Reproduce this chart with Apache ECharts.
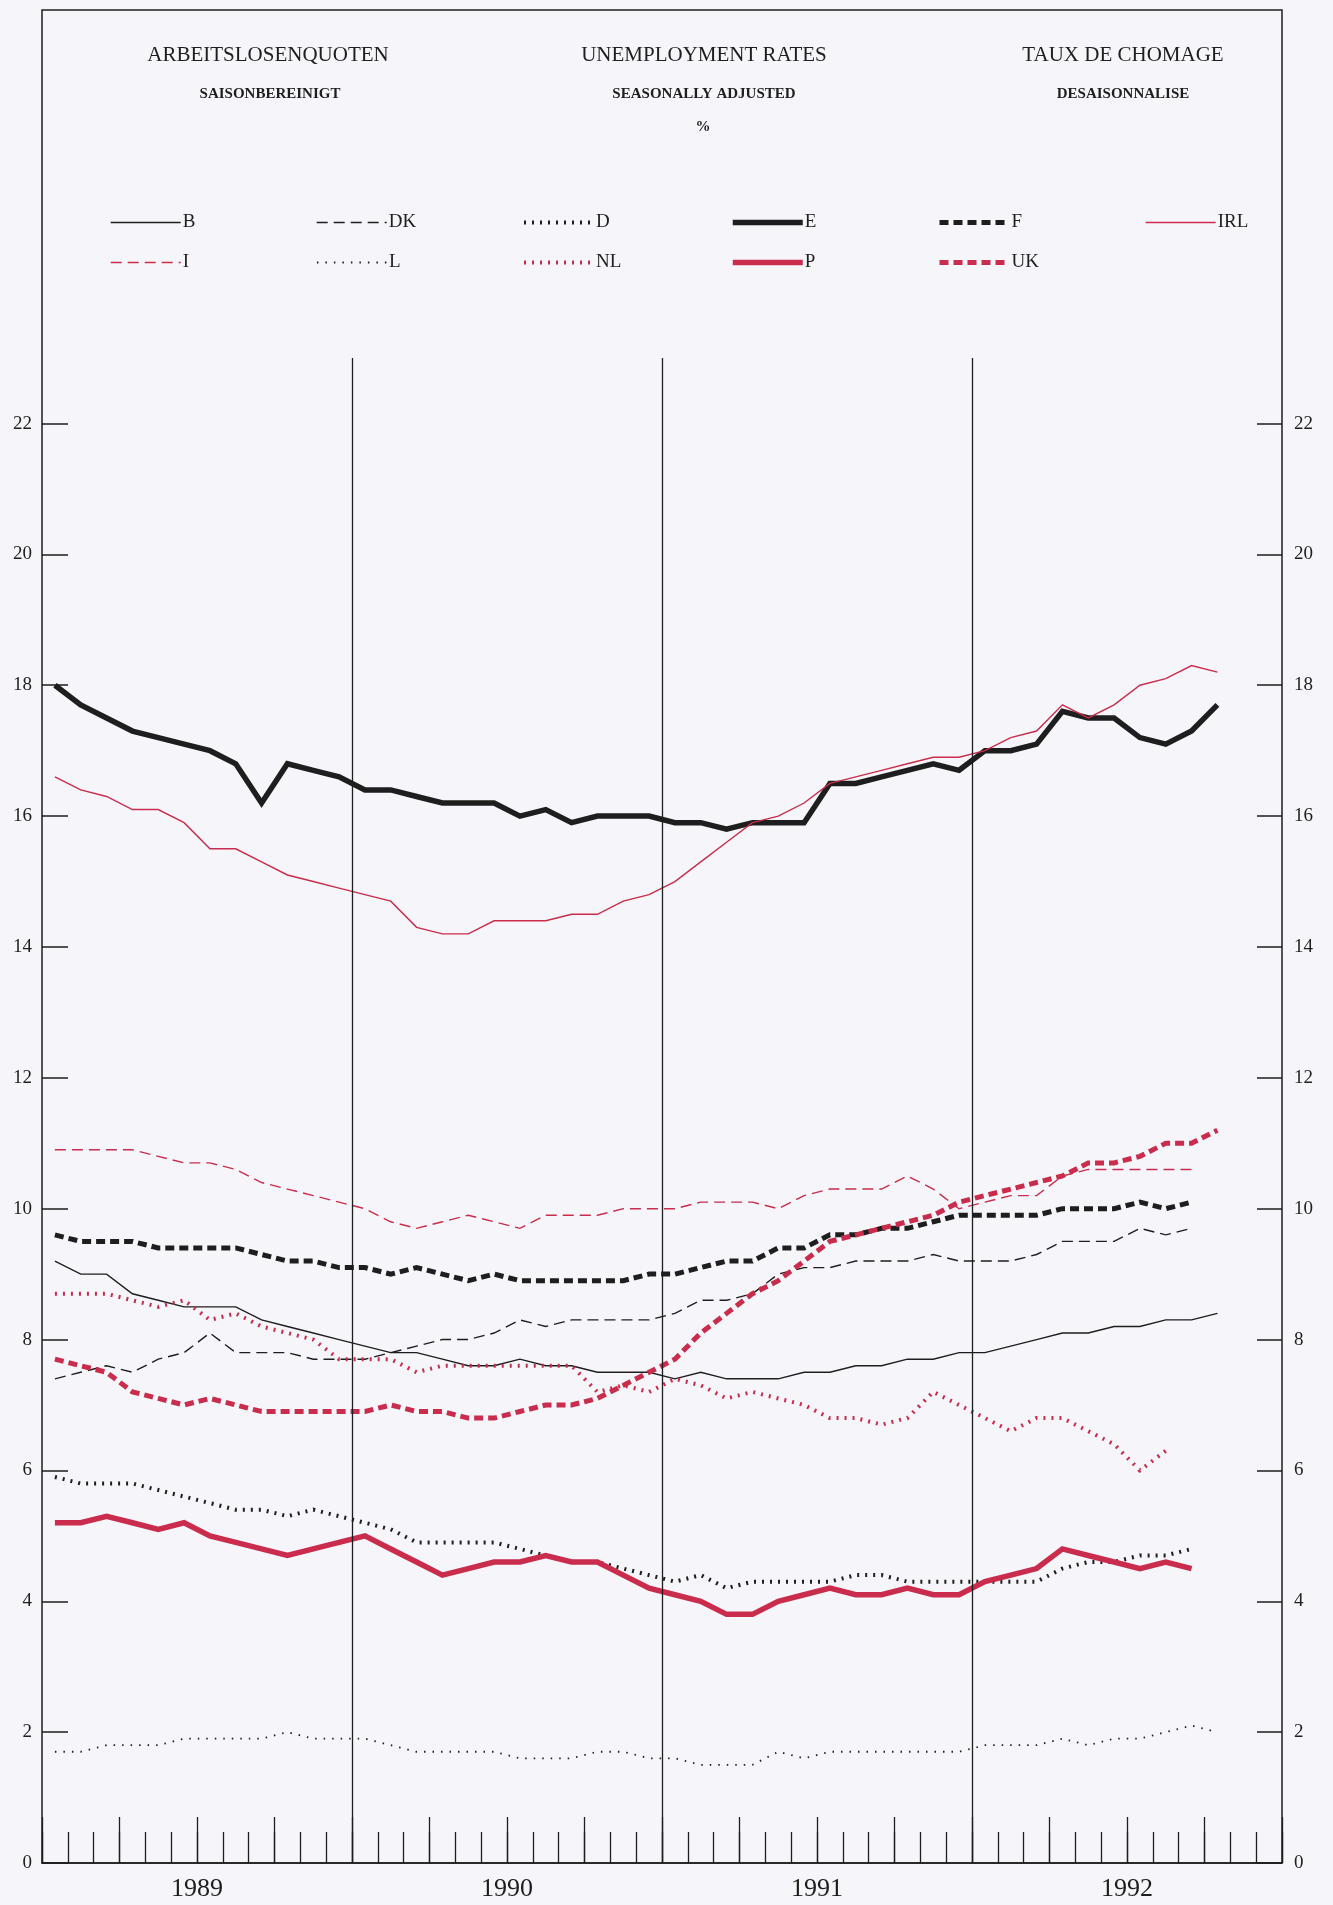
<!DOCTYPE html>
<html><head><meta charset="utf-8">
<script src="https://cdn.jsdelivr.net/npm/echarts@6/dist/echarts.min.js"></script>
<style>html,body{margin:0;padding:0;background:#f6f5f9}#c{width:1333px;height:1905px}</style>
</head><body><div id="c"></div><script>
// ---- data (monthly, Jan 1989 = index 0) ----
const yearLabels = ['1989', '1990', '1991', '1992'];
const yearBoundaries = [12, 24, 36];
const B   = [9.2,9.0,9.0,8.7,8.6,8.5,8.5,8.5,8.3,8.2,8.1,8.0,7.9,7.8,7.8,7.7,7.6,7.6,7.7,7.6,7.6,7.5,7.5,7.5,7.4,7.5,7.4,7.4,7.4,7.5,7.5,7.6,7.6,7.7,7.7,7.8,7.8,7.9,8.0,8.1,8.1,8.2,8.2,8.3,8.3,8.4];
const DK  = [7.4,7.5,7.6,7.5,7.7,7.8,8.1,7.8,7.8,7.8,7.7,7.7,7.7,7.8,7.9,8.0,8.0,8.1,8.3,8.2,8.3,8.3,8.3,8.3,8.4,8.6,8.6,8.7,9.0,9.1,9.1,9.2,9.2,9.2,9.3,9.2,9.2,9.2,9.3,9.5,9.5,9.5,9.7,9.6,9.7];
const D   = [5.9,5.8,5.8,5.8,5.7,5.6,5.5,5.4,5.4,5.3,5.4,5.3,5.2,5.1,4.9,4.9,4.9,4.9,4.8,4.7,4.6,4.6,4.5,4.4,4.3,4.4,4.2,4.3,4.3,4.3,4.3,4.4,4.4,4.3,4.3,4.3,4.3,4.3,4.3,4.5,4.6,4.6,4.7,4.7,4.8];
const E   = [18.0,17.7,17.5,17.3,17.2,17.1,17.0,16.8,16.2,16.8,16.7,16.6,16.4,16.4,16.3,16.2,16.2,16.2,16.0,16.1,15.9,16.0,16.0,16.0,15.9,15.9,15.8,15.9,15.9,15.9,16.5,16.5,16.6,16.7,16.8,16.7,17.0,17.0,17.1,17.6,17.5,17.5,17.2,17.1,17.3,17.7];
const F   = [9.6,9.5,9.5,9.5,9.4,9.4,9.4,9.4,9.3,9.2,9.2,9.1,9.1,9.0,9.1,9.0,8.9,9.0,8.9,8.9,8.9,8.9,8.9,9.0,9.0,9.1,9.2,9.2,9.4,9.4,9.6,9.6,9.7,9.7,9.8,9.9,9.9,9.9,9.9,10.0,10.0,10.0,10.1,10.0,10.1];
const IRL = [16.6,16.4,16.3,16.1,16.1,15.9,15.5,15.5,15.3,15.1,15.0,14.9,14.8,14.7,14.3,14.2,14.2,14.4,14.4,14.4,14.5,14.5,14.7,14.8,15.0,15.3,15.6,15.9,16.0,16.2,16.5,16.6,16.7,16.8,16.9,16.9,17.0,17.2,17.3,17.7,17.5,17.7,18.0,18.1,18.3,18.2];
const I   = [10.9,10.9,10.9,10.9,10.8,10.7,10.7,10.6,10.4,10.3,10.2,10.1,10.0,9.8,9.7,9.8,9.9,9.8,9.7,9.9,9.9,9.9,10.0,10.0,10.0,10.1,10.1,10.1,10.0,10.2,10.3,10.3,10.3,10.5,10.3,10.0,10.1,10.2,10.2,10.5,10.6,10.6,10.6,10.6,10.6];
const L   = [1.7,1.7,1.8,1.8,1.8,1.9,1.9,1.9,1.9,2.0,1.9,1.9,1.9,1.8,1.7,1.7,1.7,1.7,1.6,1.6,1.6,1.7,1.7,1.6,1.6,1.5,1.5,1.5,1.7,1.6,1.7,1.7,1.7,1.7,1.7,1.7,1.8,1.8,1.8,1.9,1.8,1.9,1.9,2.0,2.1,2.0];
const NL  = [8.7,8.7,8.7,8.6,8.5,8.6,8.3,8.4,8.2,8.1,8.0,7.7,7.7,7.7,7.5,7.6,7.6,7.6,7.6,7.6,7.6,7.2,7.3,7.2,7.4,7.3,7.1,7.2,7.1,7.0,6.8,6.8,6.7,6.8,7.2,7.0,6.8,6.6,6.8,6.8,6.6,6.4,6.0,6.3];
const P   = [5.2,5.2,5.3,5.2,5.1,5.2,5.0,4.9,4.8,4.7,4.8,4.9,5.0,4.8,4.6,4.4,4.5,4.6,4.6,4.7,4.6,4.6,4.4,4.2,4.1,4.0,3.8,3.8,4.0,4.1,4.2,4.1,4.1,4.2,4.1,4.1,4.3,4.4,4.5,4.8,4.7,4.6,4.5,4.6,4.5];
const UK  = [7.7,7.6,7.5,7.2,7.1,7.0,7.1,7.0,6.9,6.9,6.9,6.9,6.9,7.0,6.9,6.9,6.8,6.8,6.9,7.0,7.0,7.1,7.3,7.5,7.7,8.1,8.4,8.7,8.9,9.2,9.5,9.6,9.7,9.8,9.9,10.1,10.2,10.3,10.4,10.5,10.7,10.7,10.8,11.0,11.0,11.2];

// ---- styling ----
const RED = '#c92c4c', BLK = '#1e1e1e';
const FONT = '"Liberation Serif", serif';
const seriesDefs = [
  {name:'B',   data:B,   color:BLK, width:1.4, type:'solid', lx:110, row:0},
  {name:'DK',  data:DK,  color:BLK, width:1.4, type:[11,6],  lx:316, row:0},
  {name:'D',   data:D,   color:BLK, width:4,   type:[2,6],   lx:522, row:0},
  {name:'E',   data:E,   color:BLK, width:5.5, type:'solid', lx:730, row:0},
  {name:'F',   data:F,   color:BLK, width:5,   type:[9,5],   lx:937, row:0},
  {name:'IRL', data:IRL, color:RED, width:1.4, type:'solid', lx:1145, row:0},
  {name:'I',   data:I,   color:RED, width:1.4, type:[11,6],  lx:110, row:1},
  {name:'L',   data:L,   color:BLK, width:1.8, type:[1.5,7], lx:316, row:1},
  {name:'NL',  data:NL,  color:RED, width:4,   type:[2,6],   lx:522, row:1},
  {name:'P',   data:P,   color:RED, width:5.5, type:'solid', lx:730, row:1},
  {name:'UK',  data:UK,  color:RED, width:5,   type:[9,5],   lx:937, row:1}
];
const rowTop = [213, 253];
const LEG_H = 4;

const series = seriesDefs.map(s => ({
  name: s.name, type: 'line', xAxisIndex: 3, yAxisIndex: 1,
  symbol: 'none', showSymbol: false, silent: true,
  data: s.data.map((v, i) => [i + 0.5, v]),
  lineStyle: {color: s.color, width: s.width, type: s.type, cap: 'butt', join: 'miter'},
  itemStyle: {color: s.color},
  z: 3
}));
// year separator lines on the full-frame grid
series.push({
  name: 'years', type: 'line', xAxisIndex: 0, yAxisIndex: 0, silent: true,
  symbol: 'none', data: yearBoundaries.map(m => [m, 0]),
  lineStyle: {opacity: 0, width: 0},
  markLine: {
    silent: true, symbol: ['none', 'none'], label: {show: false},
    lineStyle: {color: BLK, width: 1.3, type: 'solid'},
    emphasis: {disabled: true},
    data: yearBoundaries.map(m => [{coord: [m, 0]}, {coord: [m, 23]}])
  }
});

const legends = seriesDefs.map(s => ({
  data: [s.name], left: s.lx, top: rowTop[s.row], padding: 0,
  itemWidth: 70, itemHeight: LEG_H, itemGap: 0, selectedMode: false,
  itemStyle: {opacity: 0},
  lineStyle: {width: s.width, type: s.type, color: s.color, cap: 'butt'},
  textStyle: {fontFamily: FONT, fontSize: 19, color: BLK, padding: [0, 0, 0, -3]}
}));

function txt(t, x, y, size, weight) {
  return {type: 'text', x: x, y: y, silent: true,
    style: {text: t, align: 'center', verticalAlign: 'middle', fontFamily: FONT,
      fontSize: size, fontWeight: weight || 'normal', fill: BLK}};
}

const GL = 42, GR = 51, GT = 10, GB = 42;
const FRAME_MAX = 28.32;               // value at the top frame edge
const Y22_TOP = 1905 - GB - 22 * (1905 - GB - GT) / FRAME_MAX;

const hiddenX = {type: 'value', min: 0, max: 48, show: false};
const option = {
  animation: false,
  backgroundColor: '#f6f5f9',
  grid: [
    {left: GL, right: GR, top: GT, bottom: GB, show: true, borderColor: BLK, borderWidth: 1.5, backgroundColor: 'transparent'},
    {left: GL, right: GR, top: Y22_TOP, bottom: GB, show: false}
  ],
  legend: legends,
  xAxis: [
    {gridIndex: 0, type: 'value', min: 0, max: 48, interval: 1, position: 'bottom',
      axisLine: {show: true, lineStyle: {color: BLK, width: 1.5}},
      axisTick: {show: true, inside: true, length: 31, lineStyle: {color: BLK, width: 1.3}},
      axisLabel: {show: false}, splitLine: {show: false}},
    {gridIndex: 0, type: 'value', min: 0, max: 48, interval: 3, position: 'bottom',
      axisLine: {show: false},
      axisTick: {show: true, inside: true, length: 46, lineStyle: {color: BLK, width: 1.3}},
      axisLabel: {show: false}, splitLine: {show: false}},
    {gridIndex: 0, type: 'value', min: 0, max: 48, interval: 6, position: 'bottom',
      axisLine: {show: false}, axisTick: {show: false}, splitLine: {show: false},
      axisLabel: {show: true, margin: 13, fontFamily: FONT, fontSize: 26, color: BLK,
        showMinLabel: false, showMaxLabel: false,
        formatter: v => (v % 12 === 6 ? yearLabels[(v - 6) / 12] : '')}},
    Object.assign({gridIndex: 1}, hiddenX)
  ],
  yAxis: [
    {gridIndex: 0, type: 'value', min: 0, max: FRAME_MAX, show: false},
    {gridIndex: 1, type: 'value', min: 0, max: 22, interval: 2, position: 'left',
      splitLine: {show: false}, axisLine: {show: false},
      axisTick: {show: true, inside: true, length: 26, lineStyle: {color: BLK, width: 1.5}},
      axisLabel: {show: true, margin: 10, fontFamily: FONT, fontSize: 19, color: BLK}},
    {gridIndex: 1, type: 'value', min: 0, max: 22, interval: 2, position: 'right',
      splitLine: {show: false}, axisLine: {show: false},
      axisTick: {show: true, inside: true, length: 25, lineStyle: {color: BLK, width: 1.5}},
      axisLabel: {show: true, margin: 12, fontFamily: FONT, fontSize: 19, color: BLK}}
  ],
  graphic: [
    txt('ARBEITSLOSENQUOTEN', 268, 55, 21),
    txt('UNEMPLOYMENT RATES', 704, 55, 21),
    txt('TAUX DE CHOMAGE', 1123, 55, 21),
    txt('SAISONBEREINIGT', 270, 94, 15, 'bold'),
    txt('SEASONALLY ADJUSTED', 704, 94, 15, 'bold'),
    txt('DESAISONNALISE', 1123, 94, 15, 'bold'),
    txt('%', 703, 127, 15, 'bold')
  ],
  series: series
};

const chart = echarts.init(document.getElementById('c'), null, {renderer: 'canvas'});
chart.setOption(option);
</script></body></html>
